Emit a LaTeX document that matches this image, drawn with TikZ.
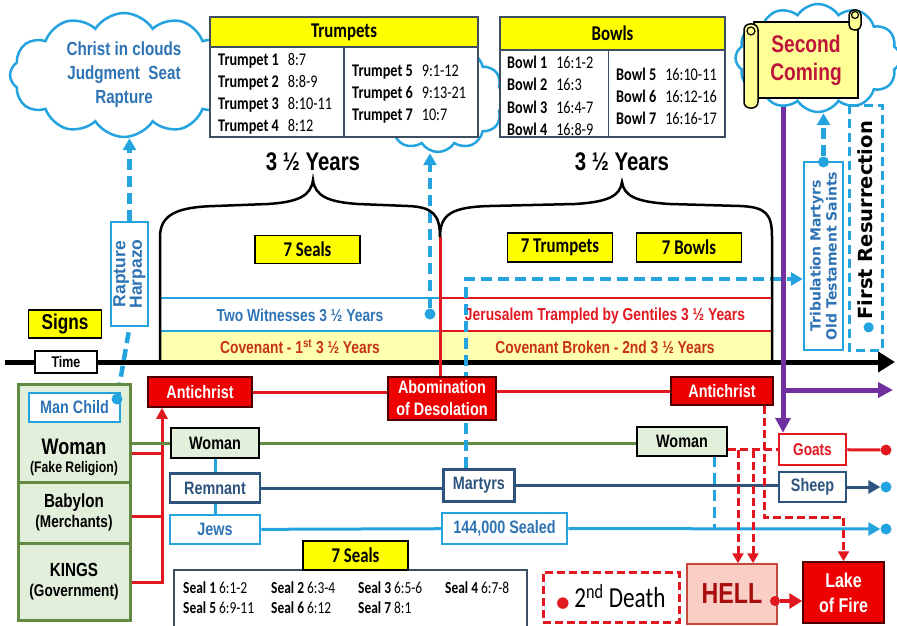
\documentclass[tikz,border=0pt]{standalone}
\usepackage{fontspec}
\setmainfont[FakeStretch=0.8]{Liberation Sans}
\newfontfamily\calib[FakeStretch=0.8]{Carlito}
\newfontfamily\verd{DejaVu Sans}
\newfontfamily\plainarial{Liberation Sans}
\usetikzlibrary{positioning,shapes.symbols,arrows.meta,backgrounds}

\definecolor{cSky}{RGB}{36,164,222}
\definecolor{cTextBlue}{RGB}{46,116,181}
\definecolor{cNavy}{RGB}{45,84,126}
\definecolor{cRed}{RGB}{226,24,32}
\definecolor{cBoxRed}{RGB}{236,0,0}
\definecolor{cGrn}{RGB}{98,138,64}
\definecolor{cGrnFill}{RGB}{226,239,218}
\definecolor{cYel}{RGB}{255,255,0}
\definecolor{cBand}{RGB}{255,255,178}
\definecolor{cPurp}{RGB}{112,48,160}
\definecolor{cCov}{RGB}{198,50,22}
\definecolor{cTbl}{RGB}{62,78,98}
\definecolor{cHellFill}{RGB}{250,206,196}
\definecolor{cHellLine}{RGB}{196,72,60}
\definecolor{cHellTxt}{RGB}{168,12,12}
\definecolor{cComing}{RGB}{190,20,58}
\definecolor{cScroll}{RGB}{255,255,150}

\newcommand{\fsz}[2]{\fontsize{#1}{#2}\selectfont}

\tikzset{
  cloudy/.style={cloud, cloud puffs=12, cloud puff arc=115, cloud ignores aspect,
    draw=cSky, line width=2.5pt, fill=white, inner sep=0pt, align=center},
  tblhead/.style={draw=cTbl, line width=1.5pt, fill=cYel, inner sep=0pt,
    font=\calib\bfseries\fsz{21}{23}},
  tblbody/.style={draw=cTbl, line width=1.5pt, fill=white, inner sep=0pt},
  entry/.style={anchor=west, inner sep=0pt, font=\calib\fsz{17.8}{19}},
  yelbox/.style={draw=black, line width=1.5pt, fill=cYel, inner sep=0pt,
    minimum width=105, minimum height=28, font=\calib\bfseries\fsz{21}{23}},
  redbox/.style={draw=black!70!red, line width=1.5pt, fill=cBoxRed, text=white,
    inner sep=0pt, align=center, font=\bfseries\fsz{18}{22}},
  grnbox/.style={draw=black, line width=1.5pt, fill=cGrnFill, inner sep=0pt,
    minimum height=30, font=\bfseries\fsz{18}{19}},
  skybox/.style={draw=cSky, line width=2.5pt, fill=white, text=cTextBlue,
    inner sep=0pt, font=\bfseries\fsz{18}{19}},
  navybox/.style={draw=cNavy, line width=2.5pt, fill=white, text=cNavy,
    inner sep=0pt, font=\bfseries\fsz{18}{19}},
  panel/.style={draw=cGrn, line width=3pt, fill=cGrnFill, minimum width=112,
    inner sep=0pt, align=center},
  enddot/.style={circle, fill=#1, inner sep=0pt, minimum size=11pt},
  skyconn/.style={draw=cSky, line width=3pt},
  skydash/.style={draw=cSky, line width=4.5pt, dash pattern=on 11pt off 6pt},
  navyconn/.style={draw=cNavy, line width=3pt},
  grnconn/.style={draw=cGrn, line width=3pt},
  redconn/.style={draw=cRed, line width=3pt},
  reddash/.style={draw=cRed, line width=3pt, dash pattern=on 8pt off 4pt},
  purpconn/.style={draw=cPurp, line width=5pt},
  arrowhd/.style={-{Triangle[length=12pt, width=13pt]}}
}

\begin{document}
\begin{tikzpicture}[x=1pt, y=-1pt, font=\bfseries]
\useasboundingbox (0,0) rectangle (897,626);

% clouds

\node[cloudy, minimum width=228, minimum height=124, text=cTextBlue, font=\bfseries\fsz{19}{24}] (cloudL) at (124,75) {Christ\ in\ clouds\\Judgment\ \ Seat\\Rapture};
\node[cloudy, minimum width=135, minimum height=106] (cloudM) at (438,99) {};
\node[cloudy, minimum width=165, minimum height=108] (cloudR) at (818,58) {};

% trumpets and bowls

\node[tblbody, minimum width=268, minimum height=90] (trumpB) at (344,92) {};
\node[tblhead, minimum width=268, minimum height=30] (trumpH) at (344,32) {Trumpets};
\draw[cTbl, line width=1.5pt] (trumpB.north) -- (trumpB.south);
\node[entry] (t1) at (218,61) {\textbf{Trumpet 1}\enspace 8:7};
\node[entry, below=22pt of t1.west, anchor=west] (t2) {\textbf{Trumpet 2}\enspace 8:8-9};
\node[entry, below=22pt of t2.west, anchor=west] (t3) {\textbf{Trumpet 3}\enspace 8:10-11};
\node[entry, below=22pt of t3.west, anchor=west] (t4) {\textbf{Trumpet 4}\enspace 8:12};
\node[entry] (t5) at (352,72) {\textbf{Trumpet 5}\enspace 9:1-12};
\node[entry, below=22pt of t5.west, anchor=west] (t6) {\textbf{Trumpet 6}\enspace 9:13-21};
\node[entry, below=22pt of t6.west, anchor=west] (t7) {\textbf{Trumpet 7}\enspace 10:7};

\node[tblbody, minimum width=225, minimum height=87] (bowlB) at (612.5,93.5) {};
\node[tblhead, minimum width=225, minimum height=33] (bowlH) at (612.5,33.5) {Bowls};
\draw[cTbl, line width=1.5pt] (bowlB.north) ++(-4,0) -- ++(0,87);
\node[entry] (b1) at (507,62) {\textbf{Bowl 1}\enspace 16:1-2};
\node[entry, below=22.5pt of b1.west, anchor=west] (b2) {\textbf{Bowl 2}\enspace 16:3};
\node[entry, below=22.5pt of b2.west, anchor=west] (b3) {\textbf{Bowl 3}\enspace 16:4-7};
\node[entry, below=22.5pt of b3.west, anchor=west] (b4) {\textbf{Bowl 4}\enspace 16:8-9};
\node[entry] (b5) at (616,74) {\textbf{Bowl 5}\enspace 16:10-11};
\node[entry, below=22pt of b5.west, anchor=west] (b6) {\textbf{Bowl 6}\enspace 16:12-16};
\node[entry, below=22pt of b6.west, anchor=west] (b7) {\textbf{Bowl 7}\enspace 16:16-17};

% second coming scroll

\node[draw=black, line width=1.5pt, fill=cScroll, minimum width=104, minimum height=76, inner sep=0pt, align=center, text=cComing, font=\bfseries\fsz{24}{28}] (second) at (806,60) {Second\\Coming};
\draw[line width=1.5pt, fill=cScroll, rounded corners=6pt] (744,24) rectangle (758,108);
\draw[line width=1.2pt, fill=cScroll] (751,31) circle (4pt);
\draw[line width=1.5pt, fill=cScroll, rounded corners=5pt] (849,10) rectangle (861,30);
\draw[line width=1.2pt, fill=cScroll] (855,15) circle (3.5pt);

% years

\node[font=\bfseries\fsz{25.5}{27}] (yearsL) at (313,162) {3 ½ Years};
\node[font=\bfseries\fsz{25.5}{27}] (yearsR) at (622,162) {3 ½ Years};

\draw[line width=2.5pt] (160,362) -- (160,237) .. controls (160,214) and (178,207) .. (215,206) -- (268,204) .. controls (298,202) and (311,196) .. (313,180) .. controls (315,196) and (328,202) .. (358,204) -- (408,206) .. controls (432,207) and (440,214) .. (440,237);
\draw[line width=2.5pt] (440,237) .. controls (440,214) and (452,207) .. (490,206) -- (575,204) .. controls (608,202) and (620,196) .. (622,182) .. controls (624,196) and (636,202) .. (670,204) -- (740,206) .. controls (766,207) and (772,214) .. (772,237) -- (772,362);

\node[yelbox] (seals7) at (307.5,249.5) {7 Seals};
\node[yelbox, minimum height=29] (trump7) at (560,247.5) {7 Trumpets};
\node[yelbox, minimum height=29] (bowls7) at (689,247.5) {7 Bowls};

\node[text=cTextBlue, font=\bfseries\fsz{17.3}{18}] (witT) at (300,315) {Two Witnesses 3 ½ Years};
\node[text=cRed, font=\bfseries\fsz{17.3}{18}] (jerT) at (605,316) {Jerusalem Trampled by Gentiles 3 ½ Years};
\node[text=cCov, font=\bfseries\fsz{17.3}{18}] (covT1) at (300,347) {Covenant - 1\textsuperscript{st} 3 ½ Years};
\node[text=cCov, font=\bfseries\fsz{17.3}{18}] (covT2) at (605,347) {Covenant Broken - 2nd 3 ½ Years};

% time line

\node[yelbox, minimum width=73, minimum height=28, font=\bfseries\fsz{21.5}{22}] (signs) at (65,324) {Signs};
\node[draw=black, line width=1.5pt, fill=white, minimum width=62, minimum height=22, inner sep=0pt, font=\bfseries\fsz{15.5}{16}] (timebox) at (66,362) {Time};
\node[rotate=90, draw=cSky, line width=2.5pt, fill=white, text=cTextBlue, minimum width=104, minimum height=37, inner sep=0pt, align=center, font=\plainarial\bfseries\fsz{17.5}{16.5}] (rapture) at (129.5,274) {Rapture\\Harpazo};
\node[rotate=90, draw=cSky, line width=2.5pt, fill=white, text=cTextBlue, minimum width=188, minimum height=39, inner sep=0pt, align=center, font=\verd\bfseries\fsz{14}{16}] (trib) at (823.5,256) {Tribulation Martyrs\\Old Testament Saints};
\node[rotate=90, draw=cSky, line width=3pt, dash pattern=on 9pt off 5pt, minimum width=245, minimum height=33, inner sep=0pt, font=\verd\bfseries\fsz{19.5}{19.5}] (firstres) at (865.5,227.5) {{\color{cSky}\fsz{13}{13}●}\,First Resurrection};

% left panel

\node[panel, minimum height=98] (womanL) at (74,433) {};
\node[panel, minimum height=61, font=\bfseries\fsz{19}{20}] (babylon) at (74,512.5) {Babylon\\{\fsz{17}{18}(Merchants)}};
\node[panel, minimum height=77, font=\bfseries\fsz{19}{20}] (kings) at (74,581.5) {KINGS\\{\fsz{17}{18}(Government)}};
\node[skybox, minimum width=91, minimum height=29] (manchild) at (74.5,407.5) {Man Child};
\node[font=\bfseries\fsz{22.5}{23}] (womanT) at (74,447) {Woman};
\node[font=\bfseries\fsz{15.3}{16}] (fakeT) at (74,469) {(Fake Religion)};

% middle rows

\node[redbox, minimum width=104, minimum height=30] (antiL) at (200,392) {Antichrist};
\node[redbox, minimum width=108, minimum height=43] (abom) at (442,398.5) {Abomination\\of Desolation};
\node[redbox, minimum width=102, minimum height=28] (antiR) at (722,391) {Antichrist};

\node[grnbox, minimum width=88] (woman1) at (215,443) {Woman};
\node[grnbox, minimum width=90, minimum height=29] (woman2) at (682,441.5) {Woman};
\node[navybox, minimum width=90, minimum height=29] (remnant) at (215,488) {Remnant};
\node[skybox, minimum width=90, minimum height=29] (jews) at (215,529.5) {Jews};
\node[navybox, minimum width=71, minimum height=32] (martyrs) at (479,485.5) {Martyrs};
\node[skybox, minimum width=125, minimum height=31] (sealed) at (504.5,528.5) {144,000 Sealed};
\node[draw=cRed, line width=2.5pt, fill=white, text=cRed, minimum width=67, minimum height=31, inner sep=0pt, font=\bfseries\fsz{17}{18}] (goats) at (812.5,449.5) {Goats};
\node[navybox, minimum width=67, minimum height=30] (sheep) at (812.5,487) {Sheep};

\node[enddot=cRed] (gdot) at (886,450) {};
\node[enddot=cSky] (sdot) at (886,487) {};
\node[enddot=cSky] (jdot) at (886,529) {};

% bottom

\node[tblbody, minimum width=353, minimum height=64] (sealsB) at (350.5,602) {};
\node[yelbox, minimum height=29] (sealsH) at (355.5,555.5) {7 Seals};
\node[entry, font=\calib\fsz{16.8}{18}] (s1) at (183,588) {\textbf{Seal 1} 6:1-2};
\node[entry, font=\calib\fsz{16.8}{18}] (s2) at (271,588) {\textbf{Seal 2} 6:3-4};
\node[entry, font=\calib\fsz{16.8}{18}] (s3) at (358,588) {\textbf{Seal 3} 6:5-6};
\node[entry, font=\calib\fsz{16.8}{18}] (s4) at (445,588) {\textbf{Seal 4} 6:7-8};
\node[entry, font=\calib\fsz{16.8}{18}, below=20pt of s1.west, anchor=west] (s5) {\textbf{Seal 5} 6:9-11};
\node[entry, font=\calib\fsz{16.8}{18}, below=20pt of s2.west, anchor=west] (s6) {\textbf{Seal 6} 6:12};
\node[entry, font=\calib\fsz{16.8}{18}, below=20pt of s3.west, anchor=west] (s7) {\textbf{Seal 7} 8:1};

\node[draw=cRed, line width=3pt, dash pattern=on 8pt off 4pt, minimum width=136, minimum height=50, inner sep=0pt, font=\calib\fsz{29}{30}] (death2) at (611,597) {{\color{cRed}\verd\fsz{15}{15}●}\,2\textsuperscript{nd} Death};
\node[draw=cHellLine, line width=1.5pt, fill=cHellFill, text=cHellTxt, minimum width=90, minimum height=60, inner sep=0pt, font=\bfseries\fsz{29}{30}] (hell) at (732,594) {HELL};
\node[redbox, minimum width=81, minimum height=61, font=\bfseries\fsz{20}{25}] (lake) at (843.5,592.5) {Lake\\of Fire};

% dots on lines

\node[enddot=cSky] (mcdot) at (117,399) {};
\node[enddot=cSky] (wdot) at (430,314) {};
\node[enddot=cSky] (tdot) at (823.5,162) {};
\node[enddot=cRed, minimum size=10pt] (hdot) at (775,601) {};

\coordinate (bj) at (440,237);
\coordinate (rw) at (162,453);
\coordinate (rb) at (162,516);
\coordinate (rk) at (162,582);
\coordinate (mv) at (466,279);
\coordinate (wv) at (714,456);
\coordinate (d1) at (738,449.5);
\coordinate (d2) at (753,449.5);
\coordinate (d3) at (764,517);
\coordinate (pv) at (783,97);
\coordinate (ph) at (783,390);
\coordinate (pe) at (893,390);

% edges

\begin{scope}[on background layer]
\fill[cBand] (160,331) rectangle (772,362);
\draw[cSky, line width=1.2pt] (160,298) -- (440,298) (160,331) -- (440,331);
\draw[cRed, line width=1.2pt] (440,298) -- (772,298) (440,331) -- (772,331);
\draw[line width=5pt, -{Triangle[length=17pt, width=20pt]}] (5,362) -- (895,362);

\draw[redconn] (bj) -- (bj |- abom.north);
\draw[redconn] (antiL.east) -- (antiL.east -| abom.west);
\draw[redconn] (abom.east |- antiR) -- (antiR.west);
\draw[redconn] (womanL.east |- rw) -- (rw);
\draw[redconn] (babylon.east |- rb) -- (rb);
\draw[redconn, -{Triangle[length=11pt, width=11pt]}] (kings.east |- rk) -- (rk) -- (rk |- antiL.south);

\draw[grnconn] (womanL.east |- woman1) -- (woman1);
\draw[grnconn] (woman1.east) -- (woman1.east -| woman2.west);
\draw[skyconn] (woman1) -- (remnant) -- (jews);
\draw[navyconn] (remnant.east) -- (remnant.east -| martyrs.west);
\draw[navyconn] (martyrs.east) -- (martyrs.east -| sheep.west);
\draw[navyconn, arrowhd] (sheep) -- (sdot);
\draw[skyconn] (jews) -- (sealed);
\draw[skyconn, arrowhd] (sealed) -- (jdot);
\draw[redconn] (goats) -- (gdot);

\draw[skydash] (mcdot) -- (rapture.west);
\draw[skydash, arrowhd] (rapture.east) -- (rapture.east |- cloudL.south);
\draw[skydash, arrowhd] (wdot) -- (wdot |- cloudM.south);
\draw[skydash, arrowhd] (martyrs.north -| mv) -- (mv) -- (mv -| trib.north);
\draw[skydash, arrowhd] (tdot) -- (tdot |- cloudR.south);
\draw[skydash, line width=3pt] (wv) -- (wv |- sealed);

\draw[reddash] (woman2.east |- goats) -- (goats.west);
\draw[reddash, -{Triangle[length=10pt, width=11pt]}] (d1) -- (d1 |- hell.north);
\draw[reddash, -{Triangle[length=10pt, width=11pt]}] (d2) -- (d2 |- hell.north);
\draw[reddash, -{Triangle[length=10pt, width=11pt]}] (antiR.south -| d3) -- (d3) -| (lake.north);
\draw[redconn, line width=4pt, -{Triangle[length=13pt, width=15pt]}] (hdot) -- (hdot -| lake.west);

\draw[purpconn, -{Triangle[length=15pt, width=15pt]}] (second.south -| pv) -- (pv |- goats.north);
\draw[purpconn, -{Triangle[length=15pt, width=15pt]}] (ph) -- (pe);
\end{scope}

\end{tikzpicture}
\end{document}
